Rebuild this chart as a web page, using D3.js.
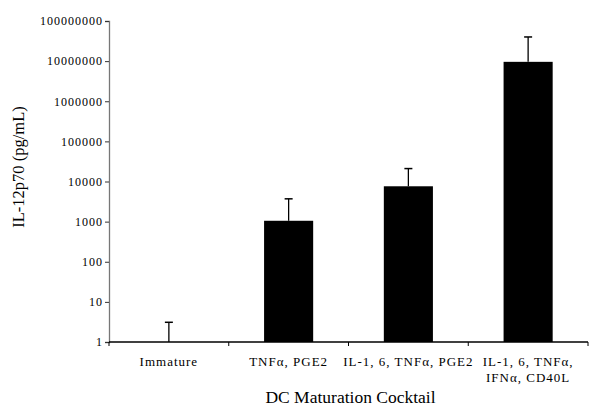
<!DOCTYPE html>
<html>
<head>
<meta charset="utf-8">
<script src="https://cdn.jsdelivr.net/npm/d3@7"></script>
<style>
  body { margin: 0; background: #fff; }
  svg { display: block; font-family: "Liberation Serif", "Times New Roman", serif; }
</style>
</head>
<body>
<svg id="chart" width="600" height="411"></svg>
<script>
// data
const categories = ['Immature', 'TNF\u03b1, PGE2', 'IL-1, 6, TNF\u03b1, PGE2', 'IL-1, 6, TNF\u03b1,|IFN\u03b1, CD40L'];
const values = [1, 1050, 7600, 9600000];
const errorTops = [3.1, 3700, 21000, 40000000];
const yTicks = [1, 10, 100, 1000, 10000, 100000, 1000000, 10000000, 100000000];

const svg = d3.select('#chart');
const margin = { top: 21, right: 12, bottom: 69, left: 109 };
const width = 600 - margin.left - margin.right;
const height = 411 - margin.top - margin.bottom;

const x = d3.scaleBand()
  .domain(categories)
  .range([0, width])
  .paddingInner(0.59)
  .paddingOuter(0.295);

const y = d3.scaleLog()
  .domain([1, 1e8])
  .range([height, 0]);

const g = svg.append('g')
  .attr('transform', `translate(${margin.left},${margin.top})`);

// bars
g.selectAll('.bar')
  .data(values)
  .enter().append('rect')
  .attr('class', 'bar')
  .attr('x', (d, i) => x(categories[i]))
  .attr('y', d => y(d))
  .attr('width', x.bandwidth())
  .attr('height', d => height - y(d))
  .style('fill', '#000');

// upper error whiskers
const err = g.selectAll('.err')
  .data(errorTops)
  .enter().append('g')
  .attr('class', 'err')
  .attr('transform', (d, i) => `translate(${x(categories[i]) + x.bandwidth() / 2},0)`);

err.append('line')
  .attr('y1', (d, i) => y(values[i]))
  .attr('y2', d => y(d))
  .style('stroke', '#000')
  .style('stroke-width', 1.3);

err.append('line')
  .attr('x1', -4)
  .attr('x2', 4)
  .attr('y1', d => y(d))
  .attr('y2', d => y(d))
  .style('stroke', '#000')
  .style('stroke-width', 1.5);

// y axis
const yAxis = g.append('g')
  .call(d3.axisLeft(y).tickValues(yTicks).tickFormat(d3.format('d')).tickSize(4).tickSizeOuter(4))
  .attr('font-family', null)
  .attr('font-size', null);
yAxis.select('.domain').style('stroke', '#777').style('stroke-width', 1.3);
yAxis.selectAll('.tick line').style('stroke', '#333');
yAxis.selectAll('.tick text')
  .attr('x', -6)
  .style('font-size', '12px')
  .style('letter-spacing', '1px')
  .style('fill', '#000');

// x axis, ticks sit at the band boundaries
const xAxis = g.append('g')
  .attr('transform', `translate(0,${height})`);
xAxis.append('line')
  .attr('x1', 0).attr('x2', width)
  .style('stroke', '#000')
  .style('stroke-width', 1.3);
xAxis.selectAll('.xtick')
  .data(d3.range(categories.length + 1))
  .enter().append('line')
  .attr('class', 'xtick')
  .attr('x1', i => i * width / categories.length)
  .attr('x2', i => i * width / categories.length)
  .attr('y1', 0)
  .attr('y2', 4)
  .style('stroke', '#000');

const labels = xAxis.selectAll('.xlabel')
  .data(categories)
  .enter().append('text')
  .attr('class', 'xlabel')
  .attr('x', d => x(d) + x.bandwidth() / 2)
  .attr('y', 24)
  .style('text-anchor', 'middle')
  .style('font-size', '13px')
  .style('letter-spacing', '1px')
  .style('fill', '#000');
labels.each(function(d) {
  const parts = d.split('|');
  d3.select(this).selectAll('tspan')
    .data(parts)
    .enter().append('tspan')
    .attr('x', x(d) + x.bandwidth() / 2)
    .attr('dy', (p, i) => i === 0 ? 0 : 16)
    .text(p => p);
});

// axis titles
svg.append('text')
  .attr('x', margin.left + width / 2 + 2)
  .attr('y', 403)
  .style('text-anchor', 'middle')
  .style('font-size', '17.5px')
  .text('DC Maturation Cocktail');

svg.append('text')
  .attr('transform', 'translate(24,167) rotate(-90)')
  .style('text-anchor', 'middle')
  .style('font-size', '16.5px')
  .text('IL-12p70 (pg/mL)');
</script>
</body>
</html>
